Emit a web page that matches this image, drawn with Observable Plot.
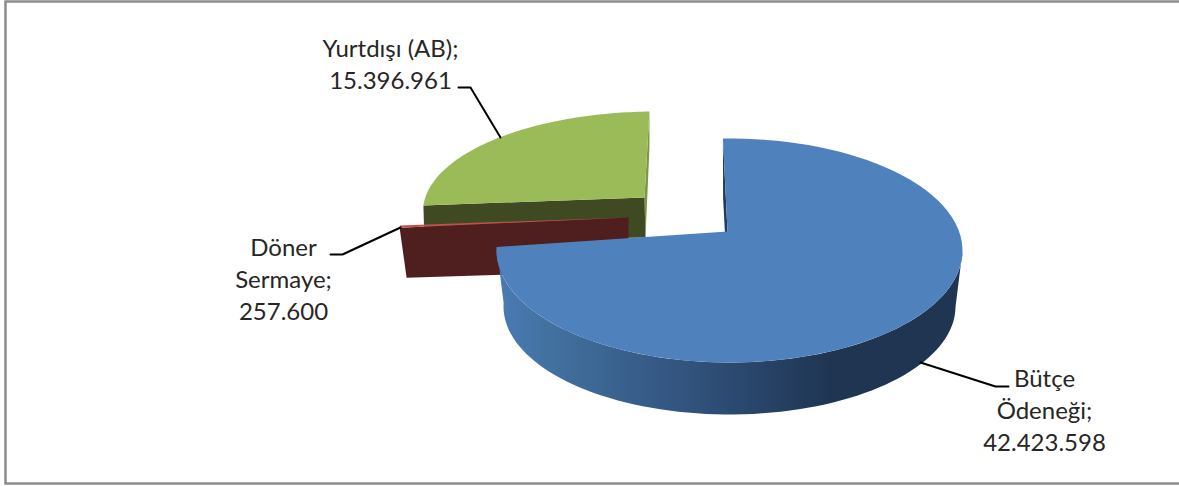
<!DOCTYPE html>
<html><head><meta charset="utf-8">
<style>html,body{margin:0;padding:0;background:#fff}svg{display:block}</style>
<script src="https://cdn.jsdelivr.net/npm/d3@7"></script>
<script src="https://cdn.jsdelivr.net/npm/@observablehq/plot@0.6"></script>
</head><body>
<script>
const names = ["Bütçe\nÖdeneği;", "Döner\nSermaye;", "Yurtdışı (AB);"];
const values = [42423598, 257600, 15396961];
const valueLabels = ["42.423.598", "257.600", "15.396.961"];
const topColors = ["#4f81bd", "#c0504d", "#9bbb59"];

// exploded-pie projection: each slice has its own apex and top / bottom rims
const D = Math.PI / 180;
const geom = [
  {ax:727,ay:231,abx:727,aby:280, top:{cx:729,cy:250,rx:233,ry:112}, bot:{cx:729,cy:306,rx:226,ry:108}},
  {ax:628,ay:217,abx:628,aby:270, top:{cx:628,cy:230,rx:229,ry:84},  bot:{cx:628,cy:280,rx:222,ry:84}},
  {ax:644,ay:197,abx:645,aby:237, top:{cx:655.5,cy:211,rx:233,ry:100}, bot:{cx:655.5,cy:247,rx:232,ry:100}}
];
const arcs = d3.pie().sort(null).startAngle(-2*D).endAngle(358*D)(values);
// perspective: the pie's centre sits behind the rim's centre, so rim angles are warped
const rim = (e, t0) => {
  const t = t0 - 11*D*Math.sin(t0);
  return {x: e.cx + e.rx*Math.sin(t), y: e.cy - e.ry*Math.cos(t)};
};
const arcPts = (e, a, b) => d3.range(0, 81).map(i => rim(e, a + (b-a)*i/80));

const marks = [];
const poly = (pts, fill) => marks.push(Plot.line(pts, {x:"x", y:"y", fill, stroke:"none", curve:"linear-closed"}));

function radialWall(i, t, fill) {
  const g = geom[i];
  poly([{x:g.ax,y:g.ay}, rim(g.top,t), rim(g.bot,t), {x:g.abx,y:g.aby}], fill);
}
function surface(i) {
  const g = geom[i], a = arcs[i];
  poly([{x:g.ax,y:g.ay}, ...arcPts(g.top, a.startAngle, a.endAngle)], topColors[i]);
}

// Yurtdışı
radialWall(2, arcs[2].endAngle, "#7b9746");
radialWall(2, arcs[2].startAngle, "#3f4a22");
surface(2);
// Döner Sermaye
radialWall(1, arcs[1].startAngle, "#4e1f1e");
surface(1);
// Bütçe Ödeneği
radialWall(0, arcs[0].startAngle, "#1f3a5c");
const wallA = 101*D, wallB = arcs[0].endAngle;
poly([...arcPts(geom[0].top, wallA, wallB), ...arcPts(geom[0].bot, wallB, wallA)], "url(#blueWall)");
surface(0);

// leaders
const leaders = [
  [{x:1008,y:386},{x:995,y:386},{x:920,y:362}],
  [{x:330,y:254},{x:342,y:254},{x:400,y:227}],
  [{x:458,y:87},{x:470,y:87},{x:500,y:137}]
];
leaders.forEach(l => marks.push(Plot.line(l, {x:"x", y:"y", stroke:"#000", strokeWidth:2, curve:"linear"})));

// labels
const labelPos = [{x:1044,y:408.5},{x:283,y:277},{x:390,y:62}];
const labels = names.map((n,i) => ({text:n+"\n"+valueLabels[i], ...labelPos[i]}));
marks.push(Plot.text(labels, {x:"x", y:"y", text:"text", fontFamily:"Lato, sans-serif", fontSize:24, lineHeight:1.34, fill:"#262626", textAnchor:"middle"}));

// chart frame
marks.push(Plot.frame({stroke:"#8c8c8c", strokeWidth:2.5, insetLeft:5, insetTop:1, insetBottom:3, insetRight:-3}));

const plot = Plot.plot({
  width:1179, height:486, margin:0,
  x:{domain:[0,1179], range:[0,1179], axis:null},
  y:{domain:[0,486], range:[0,486], axis:null},
  style:{background:"#fff"},
  marks
});
const ns = "http://www.w3.org/2000/svg";
const defs = document.createElementNS(ns,"defs");
defs.innerHTML = `<linearGradient id="blueWall" x1="0" x2="1" y1="0" y2="0">
<stop offset="0" stop-color="#4a7bb5"/><stop offset="0.12" stop-color="#42709f"/>
<stop offset="0.45" stop-color="#2f4f78"/><stop offset="0.72" stop-color="#1f3552"/><stop offset="1" stop-color="#1f3552"/></linearGradient>`;
plot.prepend(defs);
document.body.appendChild(plot);
</script>
</body></html>
